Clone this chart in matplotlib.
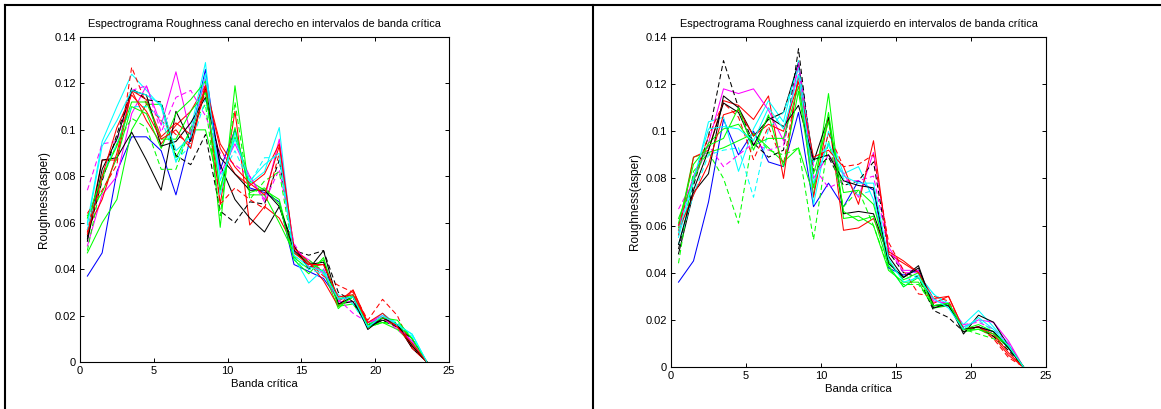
import matplotlib
matplotlib.use("Agg")
import matplotlib.pyplot as plt
from matplotlib.lines import Line2D

plt.rcParams['font.family'] = ['Liberation Sans', 'DejaVu Sans']

bands = [0.5 + i for i in range(24)]

# Canal derecho (left panel)
right_styles = ['b-', 'g-', 'r-', 'c-', 'm-', 'k-', 'g-', 'r-', 'k--', 'r--', 'm--',
                'g--', 'c--', 'k-', 'g-', 'r-', 'c-']
right_series = [
    [0.037,0.047,0.082,0.097,0.097,0.091,0.072,0.097,0.126,0.083,0.100,0.075,0.073,0.069,0.042,0.039,0.036,0.027,0.028,0.015,0.019,0.016,0.008,0.0],
    [0.047,0.060,0.070,0.100,0.111,0.111,0.088,0.100,0.100,0.075,0.097,0.078,0.074,0.070,0.045,0.040,0.044,0.024,0.025,0.016,0.017,0.016,0.010,0.0],
    [0.056,0.087,0.087,0.117,0.104,0.094,0.102,0.108,0.119,0.068,0.108,0.059,0.067,0.062,0.050,0.041,0.042,0.026,0.031,0.017,0.019,0.016,0.006,0.0],
    [0.060,0.095,0.110,0.124,0.117,0.110,0.086,0.100,0.129,0.072,0.099,0.077,0.082,0.101,0.045,0.034,0.040,0.028,0.028,0.016,0.021,0.016,0.012,0.0],
    [0.050,0.072,0.080,0.107,0.119,0.102,0.125,0.098,0.122,0.081,0.094,0.080,0.070,0.096,0.048,0.044,0.038,0.026,0.026,0.017,0.020,0.015,0.009,0.0],
    [0.053,0.087,0.088,0.099,0.087,0.074,0.108,0.095,0.118,0.085,0.070,0.062,0.056,0.067,0.050,0.040,0.048,0.025,0.026,0.015,0.018,0.016,0.006,0.0],
    [0.063,0.073,0.088,0.110,0.107,0.092,0.107,0.113,0.121,0.058,0.119,0.072,0.072,0.060,0.047,0.043,0.039,0.023,0.029,0.015,0.017,0.014,0.008,0.0],
    [0.057,0.070,0.090,0.117,0.113,0.097,0.103,0.098,0.119,0.092,0.081,0.076,0.081,0.094,0.049,0.043,0.035,0.024,0.031,0.016,0.019,0.015,0.007,0.0],
    [0.054,0.078,0.098,0.118,0.113,0.112,0.089,0.085,0.098,0.065,0.060,0.069,0.068,0.087,0.048,0.046,0.048,0.030,0.026,0.016,0.018,0.015,0.010,0.0],
    [0.064,0.074,0.085,0.127,0.111,0.104,0.098,0.094,0.117,0.068,0.075,0.070,0.066,0.090,0.049,0.043,0.037,0.033,0.030,0.018,0.027,0.020,0.006,0.0],
    [0.074,0.094,0.095,0.117,0.119,0.099,0.114,0.117,0.106,0.090,0.085,0.080,0.069,0.083,0.051,0.041,0.040,0.027,0.021,0.017,0.019,0.014,0.009,0.0],
    [0.048,0.079,0.094,0.105,0.101,0.083,0.083,0.101,0.111,0.063,0.112,0.070,0.078,0.082,0.045,0.044,0.039,0.027,0.029,0.015,0.017,0.017,0.010,0.0],
    [0.057,0.081,0.094,0.110,0.110,0.105,0.087,0.093,0.113,0.080,0.091,0.077,0.088,0.088,0.044,0.040,0.038,0.029,0.025,0.015,0.020,0.017,0.011,0.0],
    [0.052,0.083,0.096,0.117,0.115,0.093,0.095,0.103,0.114,0.088,0.081,0.074,0.074,0.067,0.048,0.042,0.043,0.025,0.028,0.014,0.019,0.016,0.007,0.0],
    [0.062,0.080,0.093,0.112,0.112,0.096,0.096,0.108,0.116,0.074,0.101,0.073,0.075,0.068,0.044,0.038,0.045,0.024,0.028,0.016,0.019,0.018,0.010,0.0],
    [0.055,0.080,0.101,0.115,0.108,0.096,0.100,0.092,0.119,0.094,0.084,0.077,0.072,0.093,0.047,0.042,0.042,0.028,0.029,0.017,0.021,0.015,0.008,0.0],
    [0.059,0.093,0.104,0.117,0.115,0.111,0.091,0.097,0.124,0.078,0.096,0.078,0.085,0.090,0.046,0.041,0.039,0.027,0.028,0.015,0.020,0.016,0.012,0.0],
]

# Canal izquierdo (right panel)
left_styles = ['b-', 'g-', 'r-', 'c-', 'm-', 'k-', 'k--', 'g--', 'r--', 'm--', 'c--',
               'g-', 'r-', 'k-', 'g-', 'c-']
left_series = [
    [0.036,0.045,0.070,0.105,0.090,0.100,0.087,0.085,0.108,0.068,0.078,0.068,0.079,0.075,0.042,0.039,0.041,0.026,0.027,0.016,0.017,0.015,0.008,0.0],
    [0.059,0.089,0.091,0.093,0.096,0.099,0.093,0.087,0.093,0.073,0.116,0.063,0.064,0.060,0.041,0.036,0.036,0.025,0.026,0.015,0.016,0.013,0.009,0.0],
    [0.056,0.089,0.092,0.113,0.111,0.105,0.115,0.080,0.124,0.072,0.106,0.058,0.059,0.063,0.048,0.044,0.040,0.027,0.030,0.016,0.017,0.013,0.005,0.0],
    [0.055,0.078,0.104,0.106,0.083,0.101,0.113,0.104,0.130,0.069,0.100,0.082,0.085,0.071,0.043,0.034,0.039,0.031,0.026,0.018,0.024,0.017,0.010,0.0],
    [0.060,0.081,0.095,0.118,0.116,0.118,0.109,0.096,0.128,0.080,0.090,0.082,0.072,0.091,0.051,0.041,0.041,0.028,0.027,0.017,0.020,0.019,0.011,0.0],
    [0.048,0.074,0.082,0.115,0.110,0.098,0.105,0.108,0.129,0.087,0.106,0.065,0.066,0.065,0.047,0.038,0.043,0.025,0.027,0.014,0.022,0.019,0.009,0.0],
    [0.050,0.077,0.098,0.130,0.110,0.095,0.089,0.092,0.135,0.083,0.089,0.077,0.079,0.087,0.049,0.040,0.038,0.024,0.021,0.015,0.017,0.013,0.007,0.0],
    [0.044,0.083,0.091,0.080,0.061,0.099,0.092,0.090,0.093,0.054,0.096,0.068,0.075,0.060,0.042,0.035,0.035,0.026,0.026,0.016,0.014,0.012,0.008,0.0],
    [0.060,0.080,0.098,0.112,0.106,0.088,0.102,0.086,0.123,0.077,0.099,0.085,0.086,0.090,0.053,0.041,0.031,0.030,0.028,0.016,0.017,0.012,0.004,0.0],
    [0.067,0.079,0.094,0.085,0.090,0.095,0.092,0.094,0.129,0.085,0.076,0.079,0.079,0.081,0.050,0.040,0.040,0.029,0.026,0.018,0.019,0.016,0.010,0.0],
    [0.052,0.073,0.090,0.092,0.093,0.072,0.101,0.108,0.127,0.087,0.094,0.080,0.073,0.075,0.044,0.037,0.039,0.031,0.027,0.017,0.020,0.015,0.009,0.0],
    [0.063,0.079,0.095,0.101,0.103,0.094,0.097,0.097,0.119,0.082,0.104,0.074,0.075,0.069,0.045,0.037,0.040,0.026,0.027,0.016,0.018,0.015,0.009,0.0],
    [0.058,0.073,0.086,0.107,0.109,0.098,0.103,0.100,0.121,0.089,0.092,0.085,0.069,0.096,0.049,0.045,0.040,0.029,0.030,0.016,0.017,0.014,0.006,0.0],
    [0.052,0.075,0.092,0.112,0.108,0.094,0.106,0.102,0.111,0.088,0.090,0.079,0.077,0.076,0.044,0.038,0.042,0.026,0.026,0.016,0.017,0.015,0.008,0.0],
    [0.061,0.086,0.094,0.097,0.110,0.092,0.107,0.085,0.117,0.076,0.108,0.066,0.062,0.064,0.043,0.034,0.038,0.026,0.027,0.016,0.016,0.014,0.009,0.0],
    [0.057,0.080,0.101,0.102,0.101,0.096,0.110,0.101,0.124,0.078,0.095,0.081,0.078,0.078,0.046,0.036,0.038,0.029,0.025,0.016,0.021,0.016,0.009,0.0],
]

titles = ['Espectrograma Roughness canal derecho en intervalos de banda crítica',
          'Espectrograma Roughness canal izquierdo en intervalos de banda crítica']
xlabel = 'Banda crítica'
ylabel = 'Roughness(asper)'
xticks = [0, 5, 10, 15, 20, 25]
yticks = [0, 0.02, 0.04, 0.06, 0.08, 0.1, 0.12, 0.14]
ytick_labels = ['0', '0.02', '0.04', '0.06', '0.08', '0.1', '0.12', '0.14']

colors = {'b': '#0000ff', 'g': '#00ff00', 'r': '#ff0000', 'c': '#00ffff',
          'm': '#ff00ff', 'k': '#000000'}

W, H = 1161, 409
fig = plt.figure(figsize=(W / 100, H / 100), dpi=100)

rects = [(80, 37, 449, 362), (671, 37, 1046, 367)]
panels = [(right_styles, right_series), (left_styles, left_series)]

for (x0, y0, x1, y1), (styles, series), title in zip(rects, panels, titles):
    ax = fig.add_axes([x0 / W, 1 - y1 / H, (x1 - x0) / W, (y1 - y0) / H])
    for st, ys in zip(styles, series):
        c = colors[st[0]]
        dashed = st.endswith('--')
        ax.plot(bands, ys, color=c, lw=0.75,
                linestyle=(0, (5, 3)) if dashed else '-')
    ax.set_xlim(0, 25)
    ax.set_ylim(0, 0.14)
    ax.set_xticks(xticks)
    ax.set_yticks(yticks)
    ax.set_yticklabels(ytick_labels)
    ax.tick_params(direction='in', length=3, width=0.7, top=True, right=True,
                   labelsize=8, pad=3)
    for s in ax.spines.values():
        s.set_linewidth(0.8)
    ax.set_title(title, fontsize=7.9, pad=7)
    ax.set_xlabel(xlabel, fontsize=8.2, labelpad=2)
    ax.set_ylabel(ylabel, fontsize=8.5, labelpad=3)

# table-like frame lines
def fx(p):
    return p / W

def fy(p):
    return 1 - p / H

fig.add_artist(Line2D([fx(5), fx(1161)], [fy(5), fy(5)], color='black', lw=1.5))
fig.add_artist(Line2D([fx(5), fx(5)], [fy(5), fy(409)], color='black', lw=1.5))
fig.add_artist(Line2D([fx(593), fx(593)], [fy(5), fy(409)], color='black', lw=1.5))

fig.savefig('out.png', dpi=100)
